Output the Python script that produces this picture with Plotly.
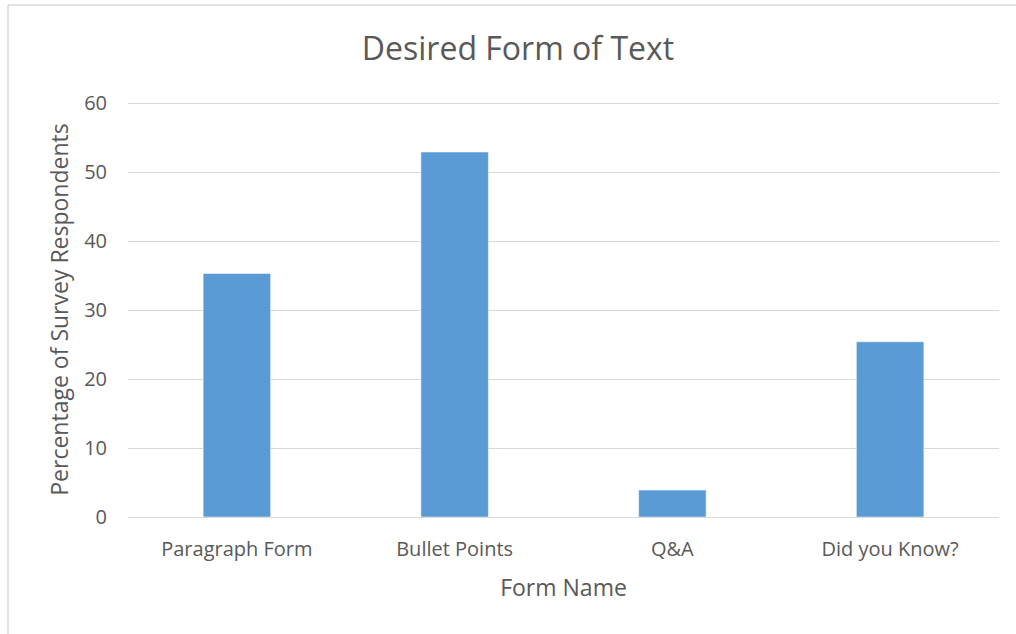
import plotly.graph_objects as go

# Survey results: preferred form of text
categories = ["Paragraph Form", "Bullet Points", "Q&A", "Did you Know?"]
percentages = [35.3, 52.9, 3.9, 25.4]
y_ticks = [0, 10, 20, 30, 40, 50, 60]

W, H = 1016, 634
L, R, T, B = 128, 17, 102, 117
plot_w = W - L - R
plot_h = H - T - B

def px_x(px):
    return (px - L) / plot_w

def px_y(py):
    return (H - B - py) / plot_h

text_color = "#595959"
grid_color = "#d9d9d9"
font_family = "Open Sans, Noto Sans, sans-serif"

fig = go.Figure(
    go.Bar(
        x=categories,
        y=percentages,
        marker=dict(color="#5b9bd5", line=dict(color="#ffffff", width=0.5)),
        hoverinfo="x+y",
    )
)

fig.update_layout(
    width=W,
    height=H,
    margin=dict(l=L, r=R, t=T, b=B),
    paper_bgcolor="white",
    plot_bgcolor="white",
    bargap=0.69,
    showlegend=False,
    font=dict(family=font_family, color=text_color, size=20),
    title=dict(
        text="Desired Form of Text",
        x=px_x(518),
        xref="paper",
        xanchor="center",
        y=1 - 49 / H,
        yref="container",
        yanchor="middle",
        font=dict(size=32, color=text_color, family=font_family),
    ),
    xaxis=dict(
        title=dict(text="Form Name", font=dict(size=23, color=text_color), standoff=18),
        showgrid=False,
        showline=False,
        ticks="",
        ticklabelstandoff=18,
        tickfont=dict(size=20, color=text_color),
    ),
    yaxis=dict(
        title=dict(text="Percentage of Survey Respondents", font=dict(size=23, color=text_color), standoff=9),
        range=[0, 60.15],
        tickvals=y_ticks,
        showgrid=True,
        gridcolor=grid_color,
        gridwidth=1.3,
        zeroline=True,
        zerolinecolor=grid_color,
        zerolinewidth=1.3,
        showline=False,
        ticks="",
        ticklabelstandoff=20,
        tickfont=dict(size=20, color=text_color),
    ),
    shapes=[
        # frame around the chart area (top and left edges)
        dict(type="line", xref="paper", yref="paper",
             x0=px_x(8), x1=px_x(W + 2), y0=px_y(5), y1=px_y(5),
             line=dict(color="#d9d9d9", width=1.5)),
        dict(type="line", xref="paper", yref="paper",
             x0=px_x(8), x1=px_x(8), y0=px_y(5), y1=px_y(H + 2),
             line=dict(color="#d9d9d9", width=1.5)),
    ],
)

fig.write_html("out.html")
